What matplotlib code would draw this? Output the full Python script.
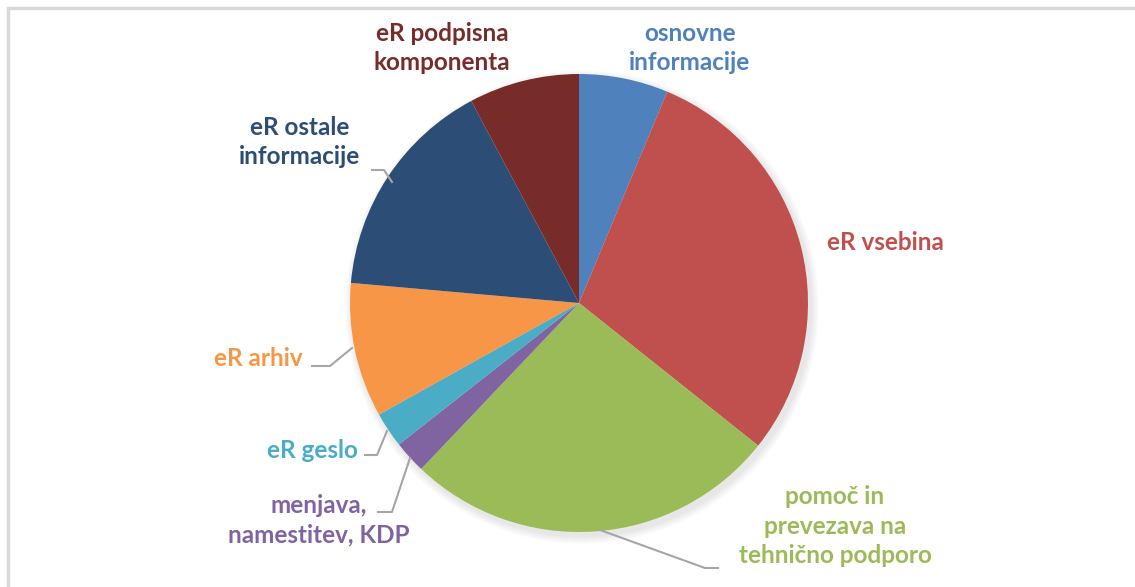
import matplotlib
matplotlib.use("Agg")
import matplotlib.pyplot as plt
from matplotlib.patches import Rectangle, Circle

# slice shares (percent), clockwise from 12 o'clock
labels = ["osnovne\ninformacije", "eR vsebina", "pomoč in\nprevezava na\ntehnično podporo",
          "menjava,\nnamestitev, KDP", "eR geslo", "eR arhiv",
          "eR ostale\ninformacije", "eR podpisna\nkomponenta"]
values = [6.3, 29.4, 26.4, 2.3, 2.5, 9.5, 15.8, 7.8]
colors = ["#4F81BD", "#C0504D", "#9BBB59", "#8064A2", "#4BACC6", "#F79646",
          "#2C4D75", "#772C2A"]

W, H = 1135, 587
fig = plt.figure(figsize=(W / 100, H / 100), dpi=100)
ax = fig.add_axes([0, 0, 1, 1])
ax.set_xlim(0, W)
ax.set_ylim(0, H)
ax.set_aspect("equal")
ax.axis("off")

cx, cy, r = 579, H - 303, 229

# soft shadow
for i in range(8):
    ax.add_patch(Circle((cx + 3, cy - 4), r + 8 - i, color="black", alpha=0.012, lw=0))

ax.pie(values, colors=colors, startangle=90, counterclock=False,
       center=(cx, cy), radius=r, wedgeprops=dict(linewidth=0))
ax.set_xlim(0, W)
ax.set_ylim(0, H)

# frame
fig.patches.append(Rectangle((8, -10), W, H - 8 + 10, transform=None, fill=False,
                             edgecolor="#D9D9D9", lw=2.5, figure=fig))

font = dict(family="Lato", weight="bold", fontsize=17.5, ha="center", va="center",
            linespacing=1.35)
label_pos = [(690, 48), (885, 242), (835, 526), (319, 520), (312, 450),
             (258, 358), (300, 142), (442, 48)]
for lab, col, (x, y) in zip(labels, colors, label_pos):
    ax.text(x, H - y, lab, color=col, **font)

# leader lines
leaders = [
    [(600, 530), (705, 568), (718, 568)],
    [(410, 458), (392, 512), (378, 512)],
    [(387, 431), (377, 455), (365, 455)],
    [(352, 348), (330, 366), (312, 366)],
    [(392, 182), (384, 170), (372, 170)],
]
for pts in leaders:
    xs = [p[0] for p in pts]
    ys = [H - p[1] for p in pts]
    ax.plot(xs, ys, color="#A6A6A6", lw=1.5)

fig.savefig("out.png", dpi=100)
